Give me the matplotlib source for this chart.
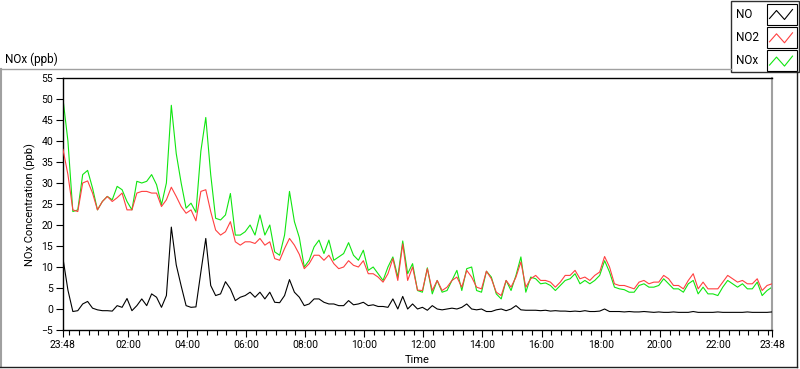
import numpy as np
import matplotlib.pyplot as plt
from matplotlib.patches import Rectangle

plt.rcParams['font.family'] = ['Roboto', 'DejaVu Sans']

# 10-minute samples, starting at 23:48 and running for 24 h
minutes = np.arange(0, 1441, 10)

no = [
    12.0, 4.5, -0.6, -0.4, 1.2, 1.8, 0.2, -0.2, -0.4, -0.4, -0.5, 0.8,
    0.4, 2.5, -0.4, 0.8, 2.4, 0.8, 3.6, 2.8, 0.4, 3.2, 19.5, 10.5,
    5.5, 0.8, 0.4, 0.5, 8.8, 16.8, 5.6, 3.2, 3.6, 6.5, 4.8, 2.0,
    2.8, 3.2, 4.0, 2.8, 4.0, 2.4, 4.0, 1.6, 1.5, 3.2, 7.0, 4.0,
    2.8, 0.8, 1.2, 2.4, 2.4, 1.6, 1.2, 1.2, 0.8, 0.8, 2.0, 1.0,
    1.2, 1.6, 0.8, 1.0, 0.6, 0.6, 0.4, 2.4, 0.0, 3.0, 0.0, 1.2,
    0.0, 0.4, -0.3, 0.8, 0.0, -0.2, 0.0, 0.2, 0.0, 0.4, 1.2, 0.0,
    -0.2, 0.0, -0.6, -0.6, -0.2, 0.0, -0.4, 0.0, 0.8, -0.2, -0.3, -0.3,
    -0.3, -0.4, -0.3, -0.5, -0.4, -0.5, -0.5, -0.6, -0.5, -0.6, -0.4, -0.6,
    -0.6, -0.5, 0.0, -0.6, -0.6, -0.6, -0.7, -0.6, -0.7, -0.7, -0.6, -0.7,
    -0.8, -0.7, -0.8, -0.8, -0.7, -0.8, -0.8, -0.8, -0.6, -0.8, -0.8, -0.8,
    -0.8, -0.7, -0.8, -0.8, -0.8, -0.8, -0.8, -0.7, -0.8, -0.8, -0.8, -0.8,
    -0.7,
]

no2 = [
    38.0, 32.0, 23.6, 23.2, 30.0, 30.5, 27.6, 23.6, 25.6, 26.8, 25.6, 26.5,
    27.6, 23.6, 23.6, 27.6, 28.0, 28.0, 27.6, 27.6, 24.4, 26.0, 29.0, 26.8,
    24.4, 22.8, 23.6, 21.0, 28.0, 28.4, 23.2, 18.8, 17.6, 18.4, 20.8, 16.0,
    15.2, 16.0, 16.0, 15.6, 16.8, 15.2, 16.0, 12.0, 11.6, 14.4, 16.8, 15.2,
    13.0, 9.6, 10.8, 12.8, 12.8, 11.6, 12.8, 10.8, 9.6, 10.0, 11.5, 10.4,
    10.0, 11.5, 8.4, 8.4, 7.6, 6.4, 8.4, 12.0, 6.8, 15.5, 6.8, 10.0,
    4.5, 4.4, 9.6, 4.4, 6.8, 4.4, 5.2, 6.8, 7.6, 5.2, 9.2, 7.6,
    5.2, 4.8, 9.0, 7.2, 4.0, 3.2, 6.8, 5.2, 7.6, 11.2, 5.2, 7.2,
    8.0, 6.8, 6.8, 6.4, 5.2, 6.4, 8.0, 8.0, 9.2, 7.2, 7.6, 6.8,
    8.0, 8.8, 12.5, 10.0, 6.0, 5.6, 5.6, 5.2, 4.8, 6.4, 6.8, 6.0,
    6.4, 6.4, 8.0, 7.2, 5.6, 5.6, 4.8, 6.8, 8.4, 4.8, 6.4, 4.8,
    4.8, 4.8, 6.4, 8.0, 7.2, 6.4, 6.8, 6.0, 6.0, 7.2, 4.4, 5.6,
    6.0,
]

nox = [
    50.0, 40.0, 23.2, 23.6, 32.0, 33.0, 28.8, 23.6, 25.6, 26.8, 26.0, 29.2,
    28.4, 25.6, 23.6, 30.4, 30.0, 30.4, 32.0, 29.6, 24.8, 30.0, 48.5, 37.0,
    30.0, 24.0, 25.2, 23.0, 37.6, 45.6, 32.0, 21.6, 21.2, 22.4, 27.5, 17.6,
    17.6, 18.4, 20.0, 17.6, 22.4, 17.6, 20.0, 13.6, 12.8, 17.6, 28.0, 20.8,
    17.0, 10.0, 11.6, 14.8, 16.4, 13.2, 16.4, 11.6, 12.4, 13.2, 15.8, 12.8,
    11.6, 14.0, 9.2, 10.0, 8.4, 6.8, 10.0, 12.4, 7.6, 16.2, 8.4, 10.8,
    4.4, 4.0, 9.8, 3.6, 6.8, 4.0, 4.4, 6.8, 9.2, 4.4, 9.6, 10.0,
    4.4, 4.0, 9.0, 7.6, 3.6, 2.4, 6.8, 4.4, 8.0, 12.4, 4.0, 7.6,
    7.2, 6.0, 6.2, 5.6, 4.4, 5.6, 6.8, 7.2, 8.4, 6.0, 6.8, 6.0,
    6.8, 8.0, 11.5, 8.8, 5.2, 4.8, 4.6, 4.0, 4.0, 5.6, 6.0, 5.2,
    5.2, 5.6, 7.2, 6.0, 4.8, 4.8, 4.0, 6.0, 6.8, 3.6, 5.2, 3.6,
    3.6, 3.2, 5.2, 6.8, 6.0, 5.2, 6.0, 4.8, 4.8, 6.4, 3.2, 4.4,
    5.2,
]

tick_hours = [0, 2.2, 4.2, 6.2, 8.2, 10.2, 12.2, 14.2, 16.2, 18.2, 20.2, 22.2, 24]
tick_labels = ['23:48', '02:00', '04:00', '06:00', '08:00', '10:00', '12:00',
               '14:00', '16:00', '18:00', '20:00', '22:00', '23:48']
y_ticks = list(range(-5, 56, 5))

series_names = ['NO', 'NO2', 'NOx']
series_colors = ['#000000', '#ff4040', '#10e610']

hours = minutes / 60.0

W, H = 800, 369
fig = plt.figure(figsize=(W / 100, H / 100), dpi=100)

# decoration layer in pixel coordinates (frame, legend, labels)
deco = fig.add_axes([0, 0, 1, 1])
deco.set_xlim(0, W)
deco.set_ylim(H, 0)
deco.axis('off')

deco.plot([0, 731], [69, 69], color='#a0a0a0', lw=1)
deco.plot([1, 1], [69, 367], color='#a0a0a0', lw=1.5)
deco.plot([0, 797], [367, 367], color='#202020', lw=1)
deco.plot([796.5, 796.5], [71, 367], color='#202020', lw=1)

# legend box
deco.add_patch(Rectangle((730.5, 0.5), 68, 71, facecolor='white',
                         edgecolor='#303030', lw=1))
zig_x = np.array([3, 10, 18, 26])
zig_y = np.array([15, 7, 16, 6])
for i, (name, col) in enumerate(zip(series_names, series_colors)):
    y0 = 3.5 + 23.3 * i
    deco.text(736, y0 + 10.5, name, fontsize=8.5, va='center', ha='left')
    deco.add_patch(Rectangle((766.5, y0), 30, 21, facecolor='white',
                             edgecolor='black', lw=0.8))
    deco.plot(766.5 + zig_x, y0 + zig_y, color=col, lw=0.8)

deco.text(5, 59, 'NOx (ppb)', fontsize=8.5, ha='left', va='center')
deco.text(417, 360, 'Time', fontsize=8, ha='center', va='center')
deco.text(30, 205, 'NOx Concentration (ppb)', fontsize=8, rotation=90,
          ha='center', va='center')

# main plot
ax = fig.add_axes([63 / W, 1 - 330 / H, 709 / W, 252 / H])
ax.plot(hours, nox, color=series_colors[2], lw=0.8, zorder=2)
ax.plot(hours, no2, color=series_colors[1], lw=0.8, zorder=3)
ax.plot(hours, no, color=series_colors[0], lw=0.8, zorder=4)

ax.set_xlim(0, 24)
ax.set_ylim(-5, 55)
ax.set_xticks(tick_hours)
ax.set_xticklabels(tick_labels)
ax.set_xticks(np.arange(0.2, 24, 1 / 3), minor=True)
ax.set_yticks(y_ticks)

for side in ['left', 'top', 'bottom']:
    ax.spines[side].set_color('black')
    ax.spines[side].set_linewidth(1)
ax.spines['right'].set_color('#a0a0a0')
ax.spines['right'].set_linewidth(1.5)

ax.tick_params(which='major', direction='out', length=5, width=0.8,
               labelsize=7.5, pad=2)
ax.tick_params(which='minor', direction='out', length=3.5, width=0.8)

fig.savefig('out.png', dpi=100)
